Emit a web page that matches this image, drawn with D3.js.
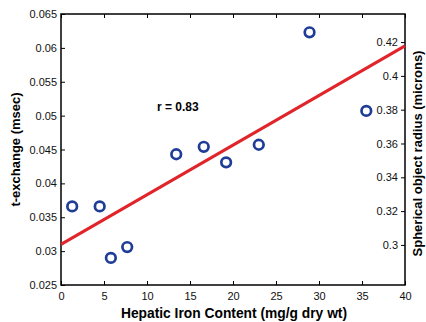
<!DOCTYPE html>
<html>
<head>
<meta charset="utf-8">
<script src="https://cdn.jsdelivr.net/npm/d3@7"></script>
<style>
body { margin: 0; background: #fff; }
text { font-family: "Liberation Sans", Arial, sans-serif; }
</style>
</head>
<body>
<div id="chart"></div>
<script>
// iron content vs t-exchange
const ironContent = [1.3, 4.5, 5.8, 7.7, 13.4, 16.6, 19.2, 23.0, 28.9, 35.5];
const tExchange = [0.0366, 0.0366, 0.0290, 0.0306, 0.0443, 0.0454, 0.0431, 0.0457, 0.0623, 0.0507];
// fitted line end points
const fitX = [0, 40];
const fitY = [0.0310, 0.0603];
const xTicks = [0, 5, 10, 15, 20, 25, 30, 35, 40];
const yTicks = [0.025, 0.03, 0.035, 0.04, 0.045, 0.05, 0.055, 0.06, 0.065];
const radiusTicks = [0.3, 0.32, 0.34, 0.36, 0.38, 0.4, 0.42];

const width = 426, height = 322;
const pLeft = 61, pRight = 405, pTop = 14, pBottom = 285;

const svg = d3.select('#chart').append('svg')
    .attr('width', width)
    .attr('height', height);

const x = d3.scaleLinear().domain([0, 40]).range([pLeft, pRight]);
const y = d3.scaleLinear().domain([0.025, 0.065]).range([pBottom, pTop]);
const y2 = d3.scaleLinear().domain([0.2763, 0.4366]).range([pBottom, pTop]);

const fmt = d => String(d);

// axes, ticks pointing inward
svg.append('g')
    .attr('transform', `translate(0,${pBottom})`)
    .call(d3.axisBottom(x).tickValues(xTicks).tickSizeInner(-4).tickSizeOuter(0).tickPadding(7).tickFormat(fmt));
svg.append('g')
    .attr('transform', `translate(0,${pTop})`)
    .call(d3.axisTop(x).tickValues(xTicks).tickSizeInner(-4).tickSizeOuter(0).tickFormat(''));
svg.append('g')
    .attr('transform', `translate(${pLeft},0)`)
    .call(d3.axisLeft(y).tickValues(yTicks).tickSizeInner(-4).tickSizeOuter(0).tickPadding(4).tickFormat(fmt));
svg.append('g')
    .attr('transform', `translate(${pRight},0)`)
    .call(d3.axisLeft(y2).tickValues(radiusTicks).tickSizeInner(4).tickSizeOuter(0).tickPadding(3).tickFormat(fmt));

svg.selectAll('.domain').remove();
svg.selectAll('.tick line').attr('stroke', '#000');
svg.selectAll('.tick text').attr('font-size', 11).attr('fill', '#111');

svg.append('rect')
    .attr('x', pLeft).attr('y', pTop)
    .attr('width', pRight - pLeft).attr('height', pBottom - pTop)
    .attr('fill', 'none').attr('stroke', '#000').attr('stroke-width', 1.5);

// fit line
svg.append('line')
    .attr('x1', x(fitX[0])).attr('y1', y(fitY[0]))
    .attr('x2', x(fitX[1])).attr('y2', y(fitY[1]))
    .attr('stroke', '#e0242a').attr('stroke-width', 3);

// points
svg.selectAll('circle.pt')
    .data(ironContent)
    .enter()
    .append('circle')
        .attr('class', 'pt')
        .attr('cx', d => x(d))
        .attr('cy', (d, i) => y(tExchange[i]))
        .attr('r', 4.8)
        .attr('fill', '#fff')
        .attr('stroke', '#1f3d96')
        .attr('stroke-width', 2.7);

svg.append('text')
    .attr('x', 157).attr('y', 111)
    .attr('font-size', 12).attr('font-weight', 'bold')
    .text('r = 0.83');

// labels
svg.append('text')
    .attr('x', 234).attr('y', 318)
    .attr('text-anchor', 'middle')
    .attr('font-size', 13.8).attr('font-weight', 'bold')
    .text('Hepatic Iron Content (mg/g dry wt)');

svg.append('text')
    .attr('transform', `translate(20,${(pTop + pBottom) / 2}) rotate(-90)`)
    .attr('text-anchor', 'middle')
    .attr('font-size', 13).attr('font-weight', 'bold')
    .text('t-exchange (msec)');

svg.append('text')
    .attr('transform', `translate(422,${(pTop + pBottom) / 2 + 4}) rotate(-90)`)
    .attr('text-anchor', 'middle')
    .attr('font-size', 13).attr('font-weight', 'bold')
    .text('Spherical object radius (microns)');
</script>
</body>
</html>
